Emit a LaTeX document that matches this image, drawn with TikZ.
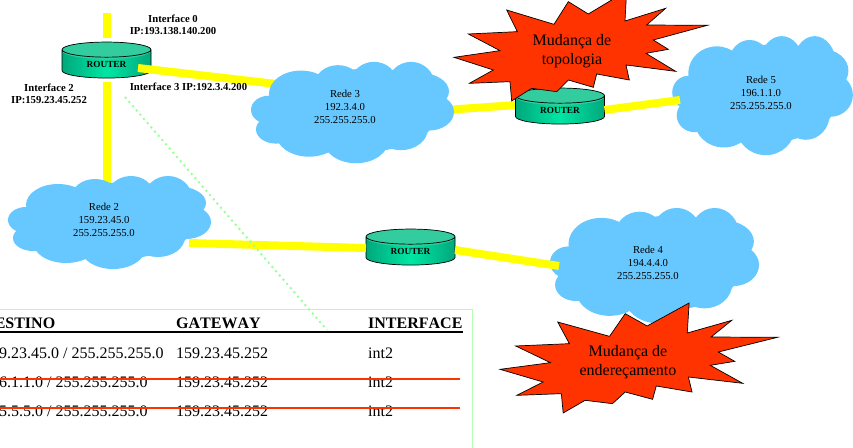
\documentclass[tikz,border=0pt]{standalone}
\usepackage{fontspec}
\setmainfont[Kerning=Off]{Liberation Serif}
\usetikzlibrary{shapes.geometric,backgrounds}

\definecolor{nuvem}{HTML}{66C8FF}
\definecolor{amarelo}{HTML}{FFFF00}
\definecolor{explosao}{HTML}{FF3300}
\definecolor{verdeclaro}{HTML}{99FF99}
\definecolor{moldura}{HTML}{B3FFB3}
\definecolor{topo}{HTML}{33CC9F}
\definecolor{corpoa}{HTML}{00A87C}
\definecolor{corpob}{HTML}{00E6A3}

\tikzstyle{router} = [cylinder,shape border rotate=90,shape aspect=0.38,draw=black,line width=0.7pt,left color=corpoa,right color=corpoa,middle color=corpob,minimum width=89pt,minimum height=36pt,inner sep=0pt,font=\fontsize{9.3}{11}\selectfont\bfseries,path picture={\fill[topo] ([yshift=-8.5pt]path picture bounding box.north) ellipse [x radius=44.5pt,y radius=8.5pt];}]
\tikzstyle{rede} = [align=center,inner sep=0pt,font=\fontsize{10.7}{13}\selectfont]
\tikzstyle{rotulo} = [align=center,inner sep=0pt,font=\fontsize{10.7}{12.5}\selectfont\bfseries]
\tikzstyle{aviso} = [align=center,inner sep=0pt,font=\fontsize{16}{19}\selectfont]
\tikzstyle{celula} = [anchor=base west,inner sep=0pt,font=\fontsize{16}{19}\selectfont]
\tikzstyle{titulo} = [anchor=base west,inner sep=0pt,font=\fontsize{16}{19}\selectfont\bfseries]
\tikzstyle{enlace} = [draw=amarelo,line width=8pt]
\tikzstyle{risco} = [draw=explosao,line width=1.6pt]
\tikzstyle{rota} = [draw=verdeclaro,line width=2pt,dash pattern=on 2pt off 3.6pt]
\tikzstyle{regra} = [draw=black,line width=1.8pt]
\tikzstyle{quadro} = [draw=moldura,line width=1pt,minimum width=500pt,minimum height=150pt,anchor=north east]
\tikzstyle{estouro} = [fill=explosao,draw=black,line width=0.7pt]

\newcommand{\nuvemrede}[4]{
	\begin{scope}[shift={(#1,#2)},xscale=#3,yscale=#4]
		\foreach \ex/\ey/\rx/\ry in {-84/-2/18/13,-52/-17/32/21,-15/-24/24/19,21/-27/23/19,58/-24/24/22,66/-19/30/17,76/0/25/17,48/15/27/20,3/25/33/22,-44/20/33/21,-77/16/20/13,-2/1/87/37,18/-22/55/18}
			\fill[nuvem] (\ex,\ey) ellipse [x radius=\rx,y radius=\ry];
	\end{scope}
}
\newcommand{\estrela}{(200,30) -- (342,73) -- (385,5) -- (445,42) -- (560,-27) -- (555,63) -- (677,25) -- (620,75) -- (802,76) -- (640,120) -- (685,148) -- (618,160) -- (707,214) -- (558,195) -- (568,240) -- (470,222) -- (460,262) -- (385,240) -- (350,275) -- (275,265) -- (215,303) -- (210,245) -- (88,250) -- (160,210) -- (42,172) -- (180,152) -- (85,102) -- (232,95) -- cycle}

\begin{document}
\begin{tikzpicture}[x=1pt,y=-1pt]
	\useasboundingbox (0,0) rectangle (853,447);

	\nuvemrede{110}{222}{1}{1}
	\nuvemrede{353}{112}{1}{1.09}
	\nuvemrede{655}{265}{1.03}{1.24}
	\nuvemrede{763}{95}{0.89}{1.28}

	\node[rede] (rede2) at (104,220) {Rede 2\\159.23.45.0\\255.255.255.0};
	\node[rede] (rede3) at (345,107) {Rede 3\\192.3.4.0\\255.255.255.0};
	\node[rede] (rede4) at (648,263) {Rede 4\\194.4.4.0\\255.255.255.0};
	\node[rede] (rede5) at (761,93) {Rede 5\\196.1.1.0\\255.255.255.0};

	\node[router] (router2) at (560,110) {ROUTER};
	\node[router] (router3) at (410.5,251) {ROUTER};
	\coordinate (saida0) at (107,13);

	\begin{scope}[on background layer]
		\node[router] (router1) at (106.5,64) {ROUTER};
		\draw[enlace] (saida0) -- ([shift={(0.5,-26)}]router1.center);
		\draw[enlace] ([shift={(0.5,18)}]router1.center) -- ([shift={(3,-30)}]rede2.center);
		\draw[enlace] ([shift={(31.5,4)}]router1.center) -- ([shift={(-60,-22)}]rede3.center);
		\draw[enlace] ([shift={(100,3)}]rede3.center) -- ([yshift=8pt]router2.center);
	\end{scope}

	\draw[enlace] ([shift={(85,23)}]rede2.center) -- ([shift={(-44.5,-3)}]router3.center);
	\draw[enlace] ([shift={(44.5,-1)}]router3.center) -- ([shift={(-89,3)}]rede4.center);
	\draw[enlace] ([shift={(44.5,0)}]router2.center) -- ([shift={(-81,7)}]rede5.center);

	\node[rotulo] (iface0) at (173,25) {Interface 0\\IP:193.138.140.200};
	\node[rotulo] (iface2) at (49,94) {Interface 2\\IP:159.23.45.252};
	\node[rotulo] (iface3) at (188.5,87) {Interface 3 IP:192.3.4.200};

	\draw[estouro,shift={(440,0)},x=0.3333pt,y=-0.3333pt] \estrela;
	\draw[estouro,shift={(484.7,312)},x=0.365pt,y=-0.3333pt] \estrela;
	\node[aviso] (aviso1) at (572,51) {Mudança de\\topologia};
	\node[aviso] (aviso2) at (628,362.5) {Mudança de\\endereçamento};

	\node[quadro] (tabela) at (473,309) {};
	\node[titulo] (destino) at (-17,328) {DESTINO};
	\node[titulo] (gateway) at (176,328) {GATEWAY};
	\node[titulo] (interface) at (368,328) {INTERFACE};
	\node[celula] (d1) at (-17,358) {159.23.45.0 / 255.255.255.0};
	\node[celula] (g1) at (176,358) {159.23.45.252};
	\node[celula] (i1) at (368,358) {int2};
	\node[celula] (d2) at (-17,387) {196.1.1.0 / 255.255.255.0};
	\node[celula] (g2) at (176,387) {159.23.45.252};
	\node[celula] (i2) at (368,387) {int2};
	\node[celula] (d3) at (-17,416) {195.5.5.0 / 255.255.255.0};
	\node[celula] (g3) at (176,416) {159.23.45.252};
	\node[celula] (i3) at (368,416) {int2};

	\draw[regra] ([yshift=-4pt]destino.base west) -- ([yshift=-4pt]interface.base east);
	\draw[risco] ([shift={(17,-8)}]d2.base west) -- ([shift={(67,-8)}]i2.base east);
	\draw[risco] ([shift={(17,-8)}]d3.base west) -- ([shift={(67,-8)}]i3.base east);
	\draw[rota] ([shift={(18.5,33)}]router1.center) -- ([shift={(-146,21)}]tabela.north east);
\end{tikzpicture}
\end{document}
